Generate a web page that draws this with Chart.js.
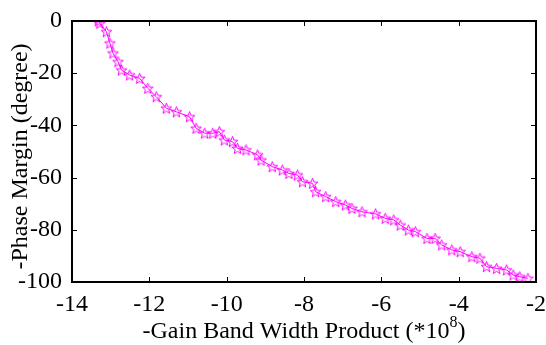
<!DOCTYPE html>
<html>
<head>
<meta charset="utf-8">
<script src="https://cdn.jsdelivr.net/npm/chart.js@4.4.1/dist/chart.umd.min.js"></script>
<style>
  body { margin: 0; background: #fff; }
  canvas { display: block; }
</style>
</head>
<body>
<canvas id="pm-chart" width="546" height="345"></canvas>
<script>
// values
const gbw = [-13.32, -13.28, -13.11, -13.02, -12.94, -12.81, -12.72, -12.51, -12.25, -12.04,
             -11.82, -11.56, -11.30, -10.96, -10.79, -10.57, -10.36, -10.19, -10.06, -9.85,
             -9.72, -9.50, -9.20, -9.11, -8.82, -8.56, -8.39, -8.17, -8.04, -7.78,
             -7.70, -7.44, -7.18, -6.93, -6.76, -6.50, -6.15, -5.90, -5.68, -5.51,
             -5.30, -5.12, -4.82, -4.61, -4.44, -4.18, -3.96, -3.66, -3.45, -3.28,
             -3.02, -2.76, -2.59, -2.42, -2.21];
const phaseMargin = [0, -0.9, -4.1, -8.5, -12.3, -15.6, -18.8, -20.7, -22.0, -25.8,
                     -29.0, -33.4, -34.8, -36.7, -41.1, -43.0, -43.0, -42.4, -45.6, -46.2,
                     -48.8, -49.4, -51.3, -53.3, -55.8, -57.1, -58.4, -59.0, -61.6, -62.2,
                     -65.4, -67.3, -69.2, -70.5, -71.8, -73.1, -73.9, -75.6, -76.2, -78.2,
                     -80.1, -80.7, -83.3, -83.3, -85.8, -87.7, -88.4, -90.3, -90.9, -94.1,
                     -94.8, -95.4, -97.3, -98.0, -98.6];
const xTicks = [-14, -12, -10, -8, -6, -4, -2];
const yTicks = [-100, -80, -60, -40, -20, 0];
const xTitle = ['-Gain Band Width Product (*10', '8', ')'];
const yTitle = '-Phase Margin (degree)';

const FONT = "'Liberation Serif', serif";
const MAGENTA = 'rgb(255, 0, 255)';

// pentagram marker like matlab's 'p'
function makeStar(size, color) {
    const c = document.createElement('canvas');
    c.width = size; c.height = size;
    const g = c.getContext('2d');
    const cx = size / 2, cy = size / 2 + 0.5;
    const ro = size / 2 - 0.8, ri = ro * 0.42;
    g.beginPath();
    for (let i = 0; i < 10; i++) {
        const r = i % 2 === 0 ? ro : ri;
        const a = -Math.PI / 2 + i * Math.PI / 5;
        const px = cx + r * Math.cos(a), py = cy + r * Math.sin(a);
        if (i === 0) g.moveTo(px, py); else g.lineTo(px, py);
    }
    g.closePath();
    g.strokeStyle = color;
    g.lineWidth = 1;
    g.stroke();
    return c;
}

const boxPlugin = {
    id: 'box',
    afterDraw(chart) {
        const { ctx, chartArea: a, scales } = chart;
        ctx.save();
        ctx.strokeStyle = '#000';
        ctx.lineWidth = 1;
        const t = 5;
        ctx.beginPath();
        xTicks.forEach(v => {
            const px = Math.round(scales.x.getPixelForValue(v)) + 0.5;
            ctx.moveTo(px, a.bottom); ctx.lineTo(px, a.bottom - t);
            ctx.moveTo(px, a.top); ctx.lineTo(px, a.top + t);
        });
        yTicks.forEach(v => {
            const py = Math.round(scales.y.getPixelForValue(v)) + 0.5;
            ctx.moveTo(a.left, py); ctx.lineTo(a.left + t, py);
            ctx.moveTo(a.right, py); ctx.lineTo(a.right - t, py);
        });
        ctx.stroke();
        ctx.lineWidth = 2;
        ctx.strokeRect(a.left, a.top, a.right - a.left, a.bottom - a.top);

        // axis titles, x one with a raised exponent
        ctx.fillStyle = '#000';
        ctx.font = '24px ' + FONT;
        const w0 = ctx.measureText(xTitle[0]).width;
        const w2 = ctx.measureText(xTitle[2]).width;
        ctx.font = '16px ' + FONT;
        const w1 = ctx.measureText(xTitle[1]).width;
        const x0 = (a.left + a.right) / 2 - (w0 + w1 + w2) / 2;
        const base = 338;
        ctx.textBaseline = 'alphabetic';
        ctx.textAlign = 'left';
        ctx.font = '24px ' + FONT;
        ctx.fillText(xTitle[0], x0, base);
        ctx.fillText(xTitle[2], x0 + w0 + w1, base);
        ctx.font = '16px ' + FONT;
        ctx.fillText(xTitle[1], x0 + w0, base - 11);

        ctx.font = '24px ' + FONT;
        ctx.translate(21, (a.top + a.bottom) / 2 + 5);
        ctx.rotate(-Math.PI / 2);
        ctx.textAlign = 'center';
        ctx.textBaseline = 'middle';
        ctx.fillText(yTitle, 0, 0);
        ctx.restore();
    }
};

const ctx = document.getElementById('pm-chart').getContext('2d');
new Chart(ctx, {
    type: 'scatter',
    data: {
        datasets: [{
            data: gbw.map((x, i) => ({ x: x, y: phaseMargin[i] })),
            showLine: true,
            borderColor: MAGENTA,
            backgroundColor: MAGENTA,
            borderWidth: 1,
            pointBorderColor: MAGENTA,
            pointStyle: makeStar(13, MAGENTA),
            pointRadius: 6,
            tension: 0
        }]
    },
    options: {
        responsive: false,
        animation: false,
        devicePixelRatio: 1,
        layout: { padding: { top: 21, right: 8, left: 0, bottom: 0 } },
        plugins: { legend: { display: false }, tooltip: { enabled: false } },
        scales: {
            x: {
                type: 'linear',
                min: -14, max: -2,
                afterBuildTicks: s => { s.ticks = xTicks.map(v => ({ value: v })); },
                afterFit: s => { s.height = 63; },
                grid: { display: false },
                border: { display: false },
                ticks: { color: '#000', font: { family: FONT, size: 24 }, padding: 0, maxRotation: 0 }
            },
            y: {
                type: 'linear',
                min: -100, max: 0,
                afterBuildTicks: s => { s.ticks = yTicks.map(v => ({ value: v })); },
                afterFit: s => { s.width = 72; },
                grid: { display: false },
                border: { display: false },
                ticks: { color: '#000', font: { family: FONT, size: 24 }, padding: 2 }
            }
        }
    },
    plugins: [boxPlugin]
});
</script>
</body>
</html>
